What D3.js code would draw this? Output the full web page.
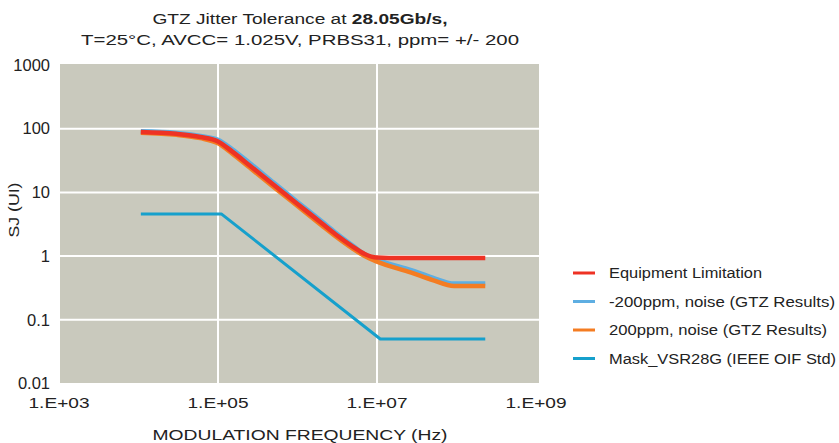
<!DOCTYPE html>
<html lang="en">
<head>
    <meta charset="UTF-8">
    <title>GTZ Jitter Tolerance</title>
    <style>
        body { margin: 0; background: #fff; }
        text { font-family: "Liberation Sans", Arial, Helvetica, sans-serif; fill: #222; }
    </style>
</head>
<body>
    <div class="chart"></div>

    <script src="https://d3js.org/d3.v7.min.js"></script>
    <script>
        // valores (frequencia em Hz, SJ em UI)
        const freqEquip = [1.07e4, 3e4, 6e4, 1e5, 1.5e5, 2.5e5, 5e5, 1e6, 2e6, 3e6, 5e6, 7e6, 1e7, 2e7, 2.3e8];
        const sjEquip   = [89, 83, 74, 63, 44, 26.5, 13.2, 6.6, 3.3, 2.2, 1.4, 1.08, 0.95, 0.93, 0.93];

        const freqMinus = [1.07e4, 3e4, 6e4, 1e5, 1.5e5, 2.5e5, 5e5, 1e6, 2e6, 3e6, 5e6, 7e6, 1e7, 2.7e7, 5e7, 9.3e7, 2.3e8];
        const sjMinus   = [91, 86, 77, 67, 48, 29, 14.3, 7.1, 3.55, 2.35, 1.45, 1.07, 0.88, 0.6, 0.46, 0.37, 0.37];

        const freqPlus = [1.07e4, 3e4, 6e4, 1e5, 1.5e5, 2.5e5, 5e5, 1e6, 2e6, 3e6, 5e6, 7e6, 1e7, 2.7e7, 5e7, 9.3e7, 2.3e8];
        const sjPlus   = [86, 80, 71, 59, 41, 24.5, 12.2, 6.1, 3.05, 2.05, 1.3, 1.0, 0.82, 0.55, 0.42, 0.34, 0.34];

        const freqMask = [1.07e4, 1.1e5, 1.1e7, 2.3e8];
        const sjMask   = [4.6, 4.6, 0.05, 0.05];

        const xTicks = [1e3, 1e5, 1e7, 1e9];
        const xTickLabels = ["1.E+03", "1.E+05", "1.E+07", "1.E+09"];
        const yTicks = [0.01, 0.1, 1, 10, 100, 1000];
        const yTickLabels = ["0.01", "0.1", "1", "10", "100", "1000"];

        const seriesNames = ["Equipment Limitation", "-200ppm, noise (GTZ Results)", "200ppm, noise (GTZ Results)", "Mask_VSR28G (IEEE OIF Std)"];
        const seriesColors = ["#ee3224", "#5eaee2", "#f47c22", "#16a0cc"];

        const width = 839, height = 443;
        const plot = { left: 60, right: 539, top: 64, bottom: 383 };

        const svg = d3.select(".chart")
            .append("svg")
            .attr("width", width)
            .attr("height", height);

        const x = d3.scaleLog().domain([1e3, 1e9]).range([59, 536]);
        const y = d3.scaleLog().domain([0.01, 1000]).range([383.5, 65]);

        // fundo da area do grafico
        svg.append("rect")
            .attr("x", plot.left)
            .attr("y", plot.top)
            .attr("width", plot.right - plot.left)
            .attr("height", plot.bottom - plot.top)
            .attr("fill", "#c9c9bd");

        // grade
        svg.append("g")
            .selectAll("line")
            .data(yTicks.slice(1, -1))
            .enter().append("line")
            .attr("x1", plot.left).attr("x2", plot.right)
            .attr("y1", d => y(d)).attr("y2", d => y(d))
            .attr("stroke", "#fff").attr("stroke-width", 2);

        svg.append("g")
            .selectAll("line")
            .data(xTicks.slice(1, -1))
            .enter().append("line")
            .attr("x1", d => x(d)).attr("x2", d => x(d))
            .attr("y1", plot.top).attr("y2", plot.bottom)
            .attr("stroke", "#fff").attr("stroke-width", 2);

        // texto esticado na largura do original
        function fit(sel, len) {
            return sel.attr("textLength", len).attr("lengthAdjust", "spacingAndGlyphs");
        }

        // rotulos dos eixos
        svg.append("g")
            .selectAll("text")
            .data(yTicks)
            .enter().append("text")
            .attr("x", 50)
            .attr("y", d => y(d))
            .attr("dy", "0.35em")
            .style("text-anchor", "end")
            .style("font-size", "16.5px")
            .text((d, i) => yTickLabels[i]);

        fit(svg.append("g")
            .selectAll("text")
            .data(xTicks)
            .enter().append("text")
            .attr("x", d => x(d))
            .attr("y", 408)
            .style("text-anchor", "middle")
            .style("font-size", "15.5px")
            .text((d, i) => xTickLabels[i]), 61);

        fit(svg.append("text")
            .attr("x", 300)
            .attr("y", 440)
            .style("text-anchor", "middle")
            .style("font-size", "15.5px")
            .text("MODULATION FREQUENCY (Hz)"), 295);

        fit(svg.append("text")
            .attr("transform", "translate(19,210) rotate(-90)")
            .style("text-anchor", "middle")
            .style("font-size", "15.5px")
            .text("SJ (UI)"), 55);

        // titulo
        const title = fit(svg.append("text")
            .attr("x", 300)
            .attr("y", 24)
            .style("text-anchor", "middle")
            .style("font-size", "15.5px"), 295);
        title.append("tspan").text("GTZ Jitter Tolerance at ");
        title.append("tspan").style("font-weight", "bold").text("28.05Gb/s,");

        fit(svg.append("text")
            .attr("x", 300)
            .attr("y", 45)
            .style("text-anchor", "middle")
            .style("font-size", "15.5px")
            .text("T=25°C, AVCC= 1.025V, PRBS31, ppm= +/- 200"), 438);

        // linhas
        const series = [
            { name: seriesNames[1], color: seriesColors[1], f: freqMinus, v: sjMinus, w: 4.5, curve: d3.curveMonotoneX },
            { name: seriesNames[2], color: seriesColors[2], f: freqPlus, v: sjPlus, w: 4.5, curve: d3.curveMonotoneX },
            { name: seriesNames[0], color: seriesColors[0], f: freqEquip, v: sjEquip, w: 4.5, curve: d3.curveMonotoneX },
            { name: seriesNames[3], color: seriesColors[3], f: freqMask, v: sjMask, w: 3, curve: d3.curveLinear }
        ];

        series.forEach(function(s) {
            const pts = s.f.map((f, i) => [f, s.v[i]]);
            const line = d3.line()
                .x(d => x(d[0]))
                .y(d => y(d[1]))
                .curve(s.curve);
            svg.append("path")
                .datum(pts)
                .attr("fill", "none")
                .attr("stroke", s.color)
                .attr("stroke-width", s.w)
                .attr("stroke-linejoin", "round")
                .attr("d", line);
        });

        // legenda
        const legendWidths = [153, 226, 218, 227];
        const legend = svg.selectAll(".legend")
            .data(seriesNames)
            .enter().append("g")
            .attr("class", "legend")
            .attr("transform", (d, i) => `translate(0,${273 + i * 28.5})`);

        legend.append("line")
            .attr("x1", 573).attr("x2", 595)
            .attr("y1", 0).attr("y2", 0)
            .attr("stroke", (d, i) => seriesColors[i])
            .attr("stroke-width", 3);

        legend.append("text")
            .attr("x", 609)
            .attr("y", 0)
            .attr("dy", "0.35em")
            .style("font-size", "15.5px")
            .attr("textLength", (d, i) => legendWidths[i])
            .attr("lengthAdjust", "spacingAndGlyphs")
            .text(d => d);
    </script>
</body>
</html>
